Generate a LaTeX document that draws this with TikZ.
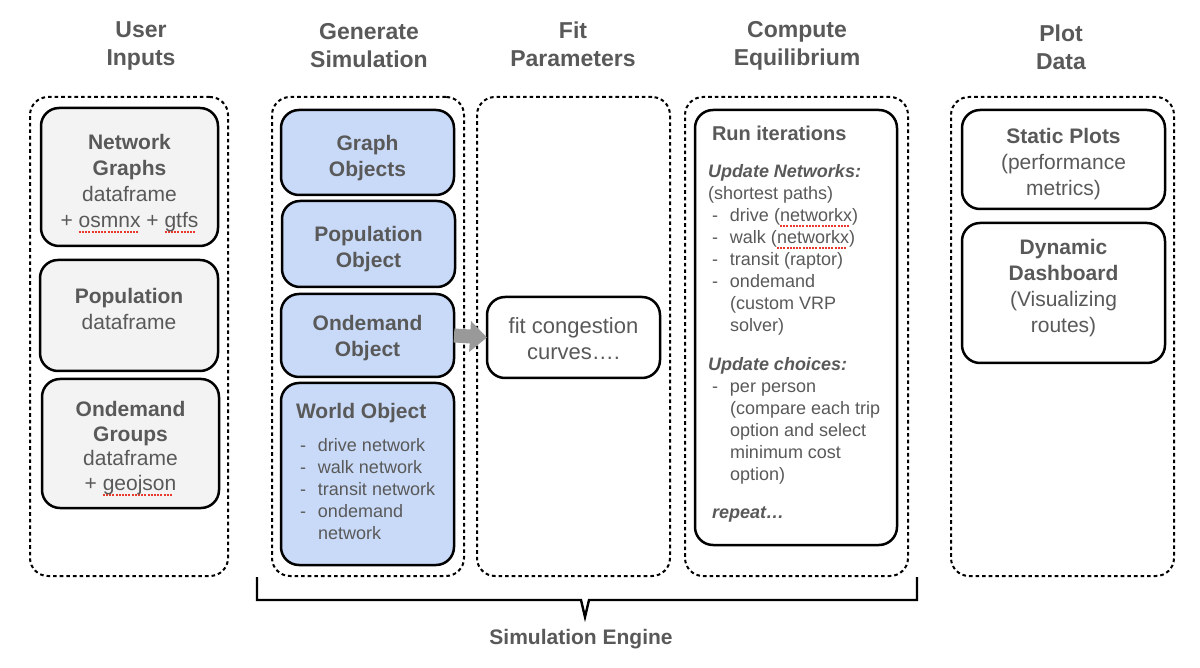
\documentclass[tikz,border=0pt]{standalone}
\usepackage{fontspec}
\setmainfont{Liberation Sans}
\usetikzlibrary{arrows.meta,calc}
\definecolor{txt}{HTML}{595959}
\definecolor{boxgray}{HTML}{F3F3F3}
\definecolor{boxblue}{HTML}{C9DAF8}
\definecolor{arrowgray}{HTML}{999999}
\definecolor{squig}{HTML}{E8392C}
\newsavebox{\sqb}
\newcommand\sq[1]{\sbox{\sqb}{#1}\rlap{\raisebox{-2.8pt}[0pt][0pt]{\textcolor{squig}{\hbox to\wd\sqb{\leaders\hbox to 1.6pt{\rule{1pt}{0.9pt}\hss}\hfill}}}}\usebox{\sqb}}
\newcommand\dsh{\makebox[11pt][l]{\hspace{2pt}-}}
\newcommand\ind{\hspace*{11pt}}
\begin{document}
\begin{tikzpicture}[x=0.5pt,y=-0.5pt,
  grp/.style={draw=black, line width=1pt, dash pattern=on 1.8pt off 1.5pt, rounded corners=9pt, inner sep=0pt, outer sep=0pt},
  bx/.style={draw=black, line width=1.25pt, rounded corners=9pt, inner sep=0pt, outer sep=0pt},
  graybox/.style={bx, fill=boxgray},
  bluebox/.style={bx, fill=boxblue},
  whitebox/.style={bx, fill=white},
  bxtext/.style={text=txt, inner sep=0pt, outer sep=0pt, align=center, font=\fontsize{10.5}{13}\selectfont},
  head/.style={text=txt, align=center, font=\bfseries\fontsize{11.5}{14}\selectfont},
  plain/.style={text=txt, inner sep=0pt, outer sep=0pt},
]
\path[use as bounding box, fill=white] (0,0) rectangle (1200,668);

% headers
\node[head] (h1) at (141,46) {User\\Inputs};
\node[head] (h2) at (369,45.5) {Generate\\Simulation};
\node[head] (h3) at (573,44) {Fit\\Parameters};
\node[head] (h4) at (797,46) {Compute\\Equilibrium};
\node[head] (h5) at (1061,47.5) {Plot\\Data};

% dashed groups
\node[grp, minimum width=99pt, minimum height=239.5pt] (g1) at (129,336.5) {};
\node[grp, minimum width=96pt, minimum height=239.5pt] (g2) at (368,336.5) {};
\node[grp, minimum width=96.5pt, minimum height=239.5pt] (g3) at (573.5,336.5) {};
\node[grp, minimum width=111.5pt, minimum height=239.5pt] (g4) at (796.5,336.5) {};
\node[grp, minimum width=111.5pt, minimum height=239.5pt] (g5) at (1062.5,336.5) {};

% user inputs
\node[graybox, minimum width=88.5pt, minimum height=69pt] (netg) at (129.5,177) {};
\node[bxtext] (netgt) at ($(netg)+(0,6)$) {\textbf{Network}\\\textbf{Graphs}\\dataframe\\+ \sq{osmnx} + \sq{gtfs}};
\node[graybox, minimum width=89pt, minimum height=55.5pt] (pop) at (129,315.5) {};
\node[bxtext] (popt) at (129,309) {\textbf{Population}\\dataframe};
\node[graybox, minimum width=88.5pt, minimum height=64.5pt] (odg) at (130.5,443.5) {};
\node[bxtext, font=\fontsize{10.5}{12.4}\selectfont] (odgt) at ($(odg)+(0,4.5)$) {\textbf{Ondemand}\\\textbf{Groups}\\dataframe\\+ \sq{geojson}};

% generate simulation
\node[bluebox, minimum width=86.5pt, minimum height=42.5pt] (gobj) at (367.5,152.5) {};
\node[bxtext] (gobjt) at ($(gobj)+(0,6)$) {\textbf{Graph}\\\textbf{Objects}};
\node[bluebox, minimum width=86.5pt, minimum height=43pt] (pobj) at (368.5,244) {};
\node[bxtext] (pobjt) at ($(pobj)+(0,5)$) {\textbf{Population}\\\textbf{Object}};
\node[bluebox, minimum width=86.5pt, minimum height=41.5pt] (oobj) at (367.5,335.5) {};
\node[bxtext] (oobjt) at ($(oobj)+(0,3)$) {\textbf{Ondemand}\\\textbf{Object}};
\node[bluebox, minimum width=86.5pt, minimum height=91pt] (wobj) at (367.5,474) {};
\node[plain, anchor=north west, font=\bfseries\fontsize{10.5}{13}\selectfont] (wtitle) at (296,403.5) {World Object};
\node[plain, anchor=north west, align=left, font=\fontsize{9}{11}\selectfont] (wlist) at (296,438.5)
  {\dsh drive network\\\dsh walk network\\\dsh transit network\\\dsh ondemand\\\ind network};

% fit parameters
\node[whitebox, minimum width=86.5pt, minimum height=40.5pt] (fit) at (573.5,337.5) {};
\node[bxtext, font=\fontsize{11}{13}\selectfont] (fitt) at ($(fit)+(0,1.5)$) {fit congestion\\curves\dots.};

% compute equilibrium
\node[whitebox, minimum width=101pt, minimum height=217.5pt] (run) at (796,327.5) {};
\node[plain, anchor=north west, font=\bfseries\fontsize{10}{12}\selectfont] (runtitle) at (712,126) {Run iterations};
\node[plain, anchor=north west, align=left, font=\fontsize{9}{11}\selectfont] (runnet) at (708,164)
  {\textbf{\textit{Update Networks:}}\\(shortest paths)\\\dsh drive (\sq{networkx})\\\dsh walk (\sq{networkx})\\\dsh transit (raptor)\\\dsh ondemand\\\ind (custom VRP\\\ind solver)};
\node[plain, anchor=north west, align=left, font=\fontsize{9}{11}\selectfont] (runch) at (708,357)
  {\textbf{\textit{Update choices:}}\\\dsh per person\\\ind (compare each trip\\\ind option and select\\\ind minimum cost\\\ind option)};
\node[plain, anchor=north west, font=\bfseries\itshape\fontsize{9}{11}\selectfont] (runrep) at (712,507) {repeat\dots};

% plot data
\node[whitebox, minimum width=101.5pt, minimum height=49.5pt] (stat) at (1063.5,159.5) {};
\node[bxtext] (statt) at ($(stat)+(0,4.5)$) {\textbf{Static Plots}\\(performance\\metrics)};
\node[whitebox, minimum width=101.5pt, minimum height=70pt] (dyn) at (1063.5,293) {};
\node[bxtext] (dynt) at (1063.5,288) {\textbf{Dynamic}\\\textbf{Dashboard}\\(Visualizing\\routes)};

% arrow
\draw[arrowgray, line width=7pt, -{Triangle[length=8.5pt,width=15pt]}] (oobj.east) -- (fit.west);

% brace
\coordinate (bl) at (257,577);
\coordinate (br) at (917,577);
\coordinate (bm) at (585,617);
\draw[line width=1.2pt, line join=miter] (bl) -- (257,600) -- (581,600) -- (bm) -- (589,600) -- (917,600) -- (br);
\node[text=txt, font=\bfseries\fontsize{10.5}{13}\selectfont] (se) at (581,639) {Simulation Engine};
\end{tikzpicture}
\end{document}
